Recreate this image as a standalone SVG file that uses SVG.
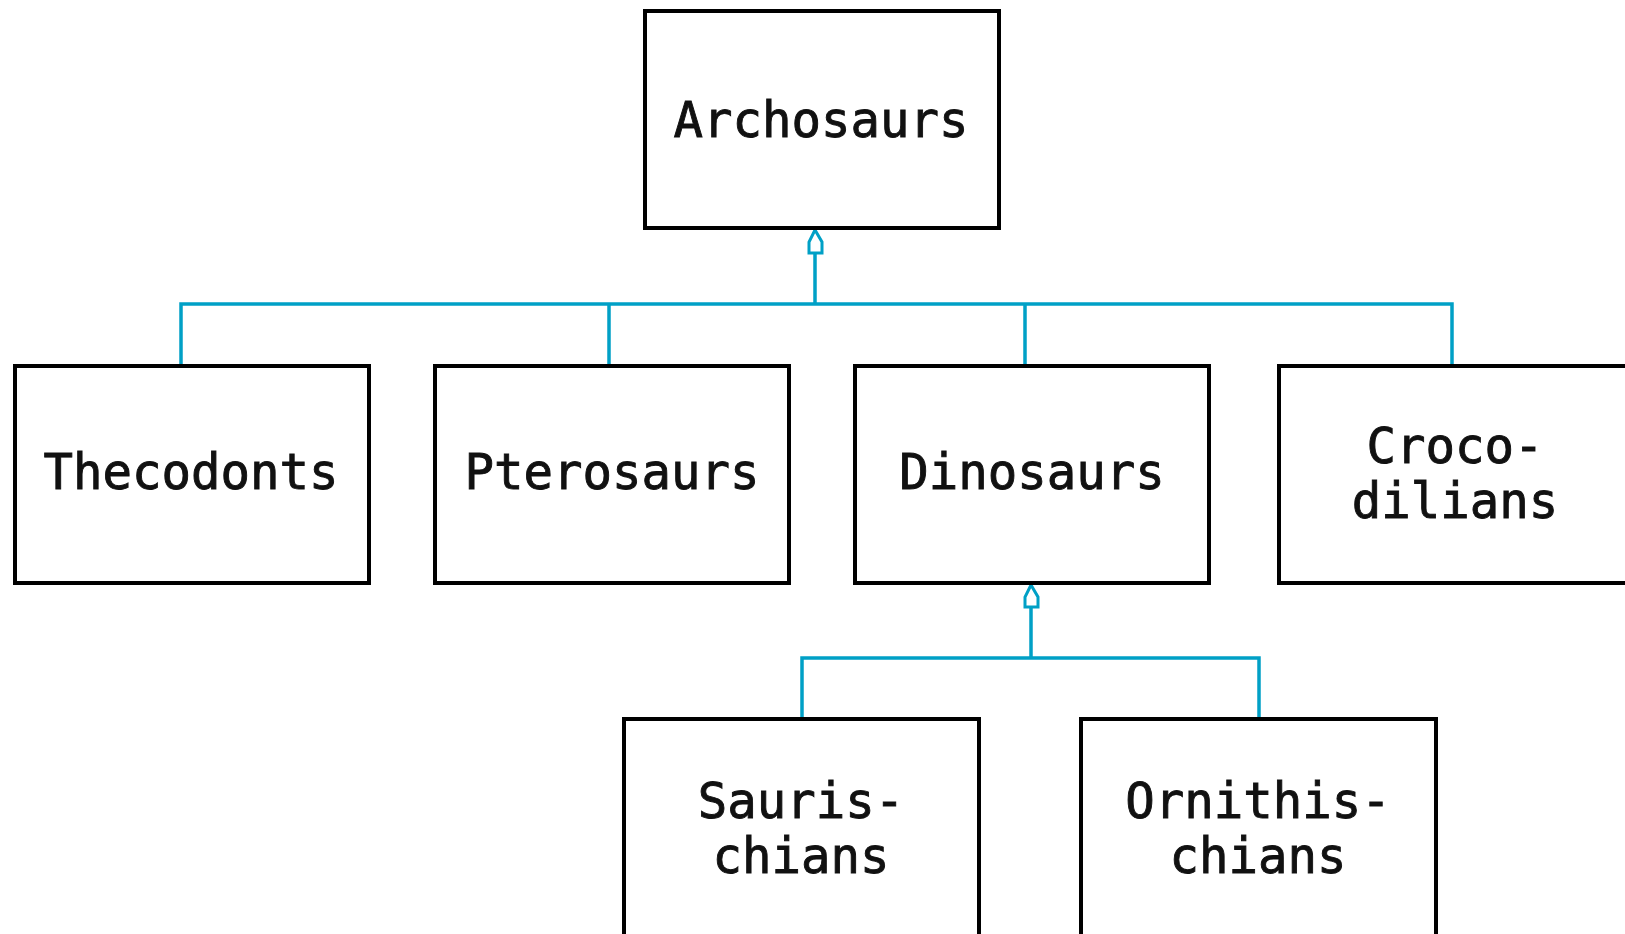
<svg xmlns="http://www.w3.org/2000/svg" width="1625" height="934" viewBox="0 0 1625 934">
  <style>
    .box { fill: #ffffff; stroke: #000000; stroke-width: 4; }
    .label { font-family: "DejaVu Sans Mono", "Liberation Mono", monospace; font-size: 49px; fill: #111111; stroke: #111111; stroke-width: 0.9; text-anchor: middle; }
    .wire { fill: none; stroke: #00a0c6; stroke-width: 3.5; }
    .head { fill: #ffffff; stroke: #00a0c6; stroke-width: 3; stroke-linejoin: miter; }
  </style>
  <rect width="1625" height="934" fill="#ffffff"/>

  <!-- class hierarchy connectors -->
  <g id="connectors">
    <path class="wire" d="M181,366 V304 H1452 V366 M609,304 V366 M1025,304 V366 M815,304 V252"/>
    <path class="head" d="M815,230 L809,242 L809,253 L822,253 L822,242 Z"/>
    <path class="wire" d="M802,719 V658 H1259 V719 M1031,658 V607"/>
    <path class="head" d="M1031,585 L1025,597 L1025,607 L1038,607 L1038,597 Z"/>
  </g>

  <g id="archosaurs">
    <rect class="box" x="645" y="11" width="354" height="217"/>
    <text class="label" x="821" y="137">Archosaurs</text>
  </g>
  <g id="thecodonts">
    <rect class="box" x="15" y="366" width="354" height="217"/>
    <text class="label" x="191" y="489">Thecodonts</text>
  </g>
  <g id="pterosaurs">
    <rect class="box" x="435" y="366" width="354" height="217"/>
    <text class="label" x="612" y="489">Pterosaurs</text>
  </g>
  <g id="dinosaurs">
    <rect class="box" x="855" y="366" width="354" height="217"/>
    <text class="label" x="1032" y="489">Dinosaurs</text>
  </g>
  <g id="crocodilians">
    <rect class="box" x="1279" y="366" width="354" height="217"/>
    <text class="label" x="1455" y="463">Croco-</text>
    <text class="label" x="1455" y="518">dilians</text>
  </g>
  <g id="saurischians">
    <rect class="box" x="624" y="719" width="355" height="230"/>
    <text class="label" x="801" y="818">Sauris-</text>
    <text class="label" x="801" y="873">chians</text>
  </g>
  <g id="ornithischians">
    <rect class="box" x="1081" y="719" width="355" height="230"/>
    <text class="label" x="1258" y="818">Ornithis-</text>
    <text class="label" x="1258" y="873">chians</text>
  </g>
</svg>
